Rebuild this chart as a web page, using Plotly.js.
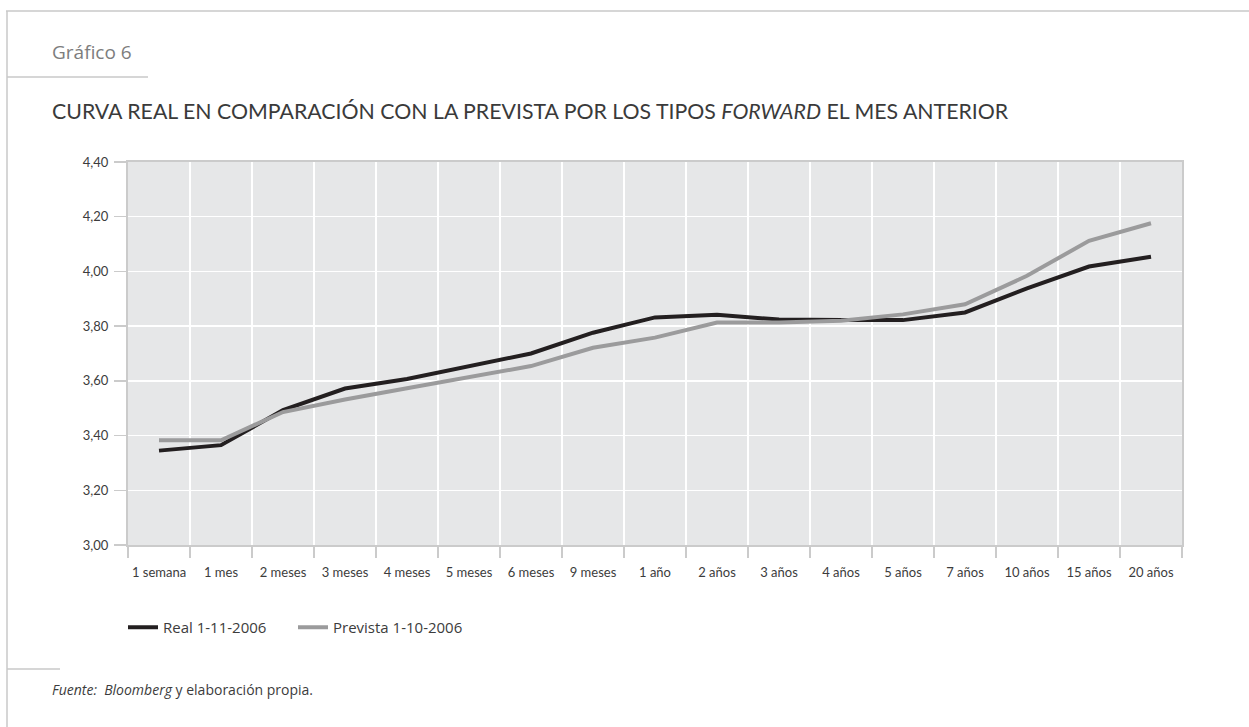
<!DOCTYPE html>
<html>
<head>
<meta charset="utf-8">
<script src="https://cdn.plot.ly/plotly-3.0.1.min.js"></script>
<style>
  html, body { margin: 0; padding: 0; background: #fff; }
  #chart { width: 1249px; height: 727px; }
</style>
</head>
<body>
<div id="chart"></div>
<script>
// Plazos de la curva
const plazos = ["1 semana", "1 mes", "2 meses", "3 meses", "4 meses", "5 meses", "6 meses", "9 meses",
                "1 año", "2 años", "3 años", "4 años", "5 años", "7 años", "10 años", "15 años", "20 años"];

// Curva real a 1-11-2006 (%)
const real = [3.345, 3.365, 3.493, 3.572, 3.607, 3.654, 3.700, 3.776,
              3.832, 3.842, 3.824, 3.822, 3.822, 3.850, 3.938, 4.018, 4.054];

// Curva prevista por los tipos forward a 1-10-2006 (%)
const prevista = [3.383, 3.383, 3.486, 3.532, 3.573, 3.615, 3.654, 3.721,
                  3.758, 3.813, 3.813, 3.820, 3.843, 3.880, 3.984, 4.112, 4.176];

const yTicks = [3.0, 3.2, 3.4, 3.6, 3.8, 4.0, 4.2, 4.4];

// Área de trazado en píxeles
const W = 1249, H = 727;
const L = 128, R = 1182, T = 162, B = 545;
const px = x => (x - L) / (R - L);
const py = y => (B - y) / (B - T);

const bodyFont = "'Open Sans', 'Noto Sans', sans-serif";
const tickFont = "Lato, 'Open Sans', sans-serif";
const textColor = "#3c3c3c";
const frame = "#cbcbcb";

const traces = [
  {
    x: plazos, y: real, name: "Real 1-11-2006", type: "scatter", mode: "lines",
    line: { color: "#231f20", width: 4 }, hoverinfo: "skip"
  },
  {
    x: plazos, y: prevista, name: "Prevista 1-10-2006", type: "scatter", mode: "lines",
    line: { color: "#9b9b9c", width: 4 }, hoverinfo: "skip"
  }
];

const layout = {
  width: W, height: H,
  margin: { l: L, r: W - R, t: T, b: H - B, pad: 0 },
  paper_bgcolor: "#ffffff",
  plot_bgcolor: "#e6e7e8",
  separators: ",.",
  font: { family: bodyFont, color: textColor, size: 12 },
  showlegend: true,
  legend: {
    orientation: "h", x: px(123), xanchor: "left", y: py(611), yanchor: "top",
    font: { family: bodyFont, size: 15, color: textColor }, bgcolor: "rgba(0,0,0,0)",
    entrywidth: 125, entrywidthmode: "pixels"
  },
  title: {
    text: "CURVA REAL EN COMPARACIÓN CON LA PREVISTA POR LOS TIPOS <i>FORWARD</i> EL MES ANTERIOR",
    x: 52 / W, xanchor: "left", xref: "container",
    y: 1 - 112 / H, yanchor: "middle", yref: "container",
    font: { family: "Lato, 'Open Sans', sans-serif", size: 21.3, color: "#3a3a3a" }
  },
  xaxis: {
    type: "category",
    tickson: "boundaries",
    tickangle: 0,
    showgrid: true, gridcolor: "#ffffff", gridwidth: 1.5,
    showline: true, linecolor: frame, linewidth: 2, mirror: true,
    ticks: "outside", ticklen: 11, tickcolor: frame, tickwidth: 1.5,
    tickfont: { family: tickFont, size: 13, color: textColor },
    ticklabelstandoff: 14,
    range: [-0.5, plazos.length - 0.5],
    fixedrange: true, zeroline: false
  },
  yaxis: {
    range: [3.0, 4.4],
    tickvals: yTicks, tickformat: ".2f",
    showgrid: true, gridcolor: "#ffffff", gridwidth: 1.5,
    showline: true, linecolor: frame, linewidth: 2, mirror: true,
    ticks: "outside", ticklen: 12, tickcolor: frame, tickwidth: 1.5,
    tickfont: { family: tickFont, size: 13, color: textColor },
    ticklabelstandoff: 3,
    fixedrange: true, zeroline: false
  },
  shapes: [
    // marco de la ficha
    { type: "line", xref: "paper", yref: "paper", x0: px(6), x1: px(1249), y0: py(11), y1: py(11),
      line: { color: "#c8c8c8", width: 1.5 } },
    { type: "line", xref: "paper", yref: "paper", x0: px(7), x1: px(7), y0: py(11), y1: py(727),
      line: { color: "#c8c8c8", width: 1.5 } },
    { type: "line", xref: "paper", yref: "paper", x0: px(7), x1: px(148), y0: py(77), y1: py(77),
      line: { color: "#c8c8c8", width: 1.5 } },
    { type: "line", xref: "paper", yref: "paper", x0: px(7), x1: px(60), y0: py(669), y1: py(669),
      line: { color: "#c8c8c8", width: 1.5 } }
  ],
  annotations: [
    { text: "Gráfico 6", xref: "paper", yref: "paper", x: px(50), y: py(52),
      xanchor: "left", yanchor: "middle", showarrow: false,
      font: { family: bodyFont, size: 19, color: "#7d7d7d" } },
    { text: "<i>Fuente:&nbsp;&nbsp;Bloomberg</i> y elaboración propia.", xref: "paper", yref: "paper",
      x: px(50), y: py(689), xanchor: "left", yanchor: "middle", showarrow: false,
      font: { family: bodyFont, size: 14, color: textColor } }
  ]
};

Plotly.newPlot("chart", traces, layout, { displayModeBar: false, staticPlot: true });
</script>
</body>
</html>
